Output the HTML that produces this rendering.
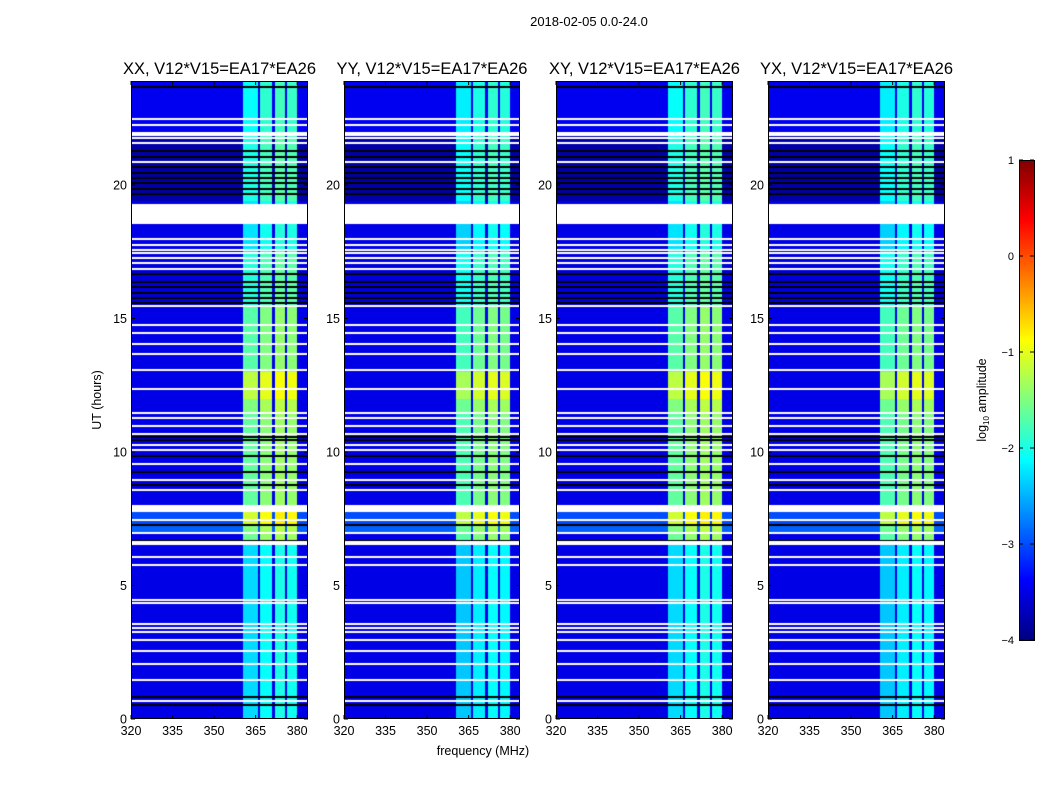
<!DOCTYPE html>
<html><head><meta charset="utf-8">
<style>
body{margin:0;background:#fff;width:1050px;height:800px;overflow:hidden;position:relative;font-family:"Liberation Sans",sans-serif}
canvas{position:absolute}
svg{position:absolute;left:0;top:0}
</style></head><body>
<canvas id="c0" width="177" height="638" style="left:131px;top:81px"></canvas>
<canvas id="c1" width="176" height="638" style="left:344px;top:81px"></canvas>
<canvas id="c2" width="177" height="638" style="left:556px;top:81px"></canvas>
<canvas id="c3" width="177" height="638" style="left:768px;top:81px"></canvas>
<canvas id="cb" width="15" height="480" style="left:1019px;top:160px"></canvas>
<svg id="s" width="1050" height="800"></svg>
<script>
// ---- data ----
const panelTitles=["XX, V12*V15=EA17*EA26","YY, V12*V15=EA17*EA26","XY, V12*V15=EA17*EA26","YX, V12*V15=EA17*EA26"];
const panelGain=[0,-0.1,0,-0.1];
const xTicks=[320,335,350,365,380];
const yTicks=[0,5,10,15,20];
const cbTicks=[1,0,-1,-2,-3,-4];
// frequency bands: start MHz, end MHz, offset (log10)
const bandStart=[360.4,366.6,372.0,376.3];
const bandEnd=[365.8,370.9,375.6,380.0];
const bandOffset=[-0.3,-0.1,0,-0.05];
// time blocks: start hour, end hour, band level, background level
const blockStart=[0,6.5,7.0,7.3,8.0,11.5,12.0,13.0,15.5,17.5,19.4,22.0];
const blockEnd=[6.5,7.0,7.3,8.0,11.5,12.0,13.0,15.5,17.5,19.4,22.0,24.0];
const blockBand=[-2.0,-1.3,-1.2,-0.8,-1.35,-1.2,-0.9,-1.4,-1.65,-1.95,-1.7,-1.8];
const blockBg=[-3.5,-3.5,-2.9,-3.0,-3.5,-3.5,-3.5,-3.5,-3.55,-3.5,-3.8,-3.45];
// flagged rows
const whiteHours=[22.5,22.3,22.0,21.9,21.8,21.6,20.9,18.0,17.8,17.6,17.5,17.3,17.1,16.9,15.5,14.8,14.5,14.1,13.7,13.1,12.4,11.5,11.3,11.0,10.7,10.3,10.1,9.6,9.0,8.6,7.5,7.0,6.1,5.8,4.5,4.4,3.6,3.45,3.3,3.0,2.6,2.1,1.5,0.7];
const whiteBlockStart=[18.54,7.75,6.52];
const whiteBlockEnd=[19.29,8.02,6.67];
const blackHours=[23.7,21.3,21.1,20.7,20.5,20.3,20.1,19.9,19.7,16.7,16.4,16.2,16.0,15.8,15.6,10.6,10.5,9.9,9.3,8.8,7.3,6.7,0.85,0.55];

// ---- helpers ----
function jet(t){t=Math.max(0,Math.min(1,t));
 const f=x=>Math.max(0,Math.min(1,x));
 return [f(1.5-Math.abs(4*t-3)),f(1.5-Math.abs(4*t-2)),f(1.5-Math.abs(4*t-1))].map(v=>Math.round(v*255));}
const vmin=-4,vmax=1;
function col(v){return jet((v-vmin)/(vmax-vmin));}
const H=638;
function yOfHour(h){return 719-h*26.7;}
function xOfFreq(f,x0){return x0+(f-320)*2.77;}
const px0=[131,344,556,768];

for(let p=0;p<4;p++){
 const cv=document.getElementById('c'+p),ctx=cv.getContext('2d');
 const W=cv.width,img=ctx.createImageData(W,H);
 for(let r=0;r<H;r++){
  const h=(638-r-0.5)/26.7;
  let bi=0;for(let i=0;i<blockStart.length;i++)if(h>=blockStart[i]&&h<blockEnd[i])bi=i;
  for(let c=0;c<W;c++){
   const f=320+(c+0.5)/2.77;
   let v=blockBg[bi];
   for(let b=0;b<bandStart.length;b++)if(f>=bandStart[b]&&f<bandEnd[b])v=blockBand[bi]+bandOffset[b]+panelGain[p];
   const [R,G,B]=col(v);const k=(r*W+c)*4;
   img.data[k]=R;img.data[k+1]=G;img.data[k+2]=B;img.data[k+3]=255;
  }
 }
 ctx.putImageData(img,0,0);
 ctx.fillStyle='#000';
 blackHours.forEach(h=>ctx.fillRect(0,Math.round(yOfHour(h)-81),W,2));
 ctx.fillStyle='#fff';
 whiteHours.forEach(h=>ctx.fillRect(0,Math.round(yOfHour(h)-81),W,2));
 for(let i=0;i<whiteBlockStart.length;i++){
  const y1=Math.round(yOfHour(whiteBlockEnd[i])-81),y2=Math.round(yOfHour(whiteBlockStart[i])-81);
  ctx.fillRect(0,y1,W,y2-y1);
 }
}
// colorbar
{const cv=document.getElementById('cb'),ctx=cv.getContext('2d');
 for(let r=0;r<480;r++){const [R,G,B]=jet(1-(r+0.5)/480);ctx.fillStyle=`rgb(${R},${G},${B})`;ctx.fillRect(0,r,15,1);}}

// ---- svg overlay ----
const s=document.getElementById('s'),NS='http://www.w3.org/2000/svg';
function el(t,a,txt){const e=document.createElementNS(NS,t);for(const k in a)e.setAttribute(k,a[k]);if(txt!==undefined)e.textContent=txt;s.appendChild(e);return e;}
let e;
e=el('text',{x:589,y:26,'text-anchor':'middle','font-size':13},'2018-02-05 0.0-24.0');

for(let p=0;p<4;p++){
 const x0=px0[p],w=(p==1?176:177);
 e=el('text',{x:x0+w/2,y:74,'text-anchor':'middle','font-size':16.5},panelTitles[p]);
 
 e=el('rect',{x:x0+0.5,y:81.5,width:w-1,height:637,fill:'none',stroke:'#000','stroke-width':1});
 
 xTicks.forEach(f=>{const x=xOfFreq(f,x0);
  el('line',{x1:x,x2:x,y1:719,y2:715,stroke:'#000'});el('line',{x1:x,x2:x,y1:81,y2:85,stroke:'#000'});
  e=el('text',{x:x,y:735,'text-anchor':'middle','font-size':12.5},String(f));
  });
 yTicks.forEach(h=>{const y=yOfHour(h);
  el('line',{x1:x0,x2:x0+4,y1:y,y2:y,stroke:'#000'});el('line',{x1:x0+w-4,x2:x0+w,y1:y,y2:y,stroke:'#000'});
  e=el('text',{x:x0-4,y:y+4.5,'text-anchor':'end','font-size':12.5},String(h));
  });
}
e=el('text',{x:483,y:755,'text-anchor':'middle','font-size':12.5},'frequency (MHz)');

e=el('text',{x:0,y:0,'text-anchor':'middle','font-size':12.5,transform:'translate(101,400) rotate(-90)'},'UT (hours)');

e=el('rect',{x:1019.5,y:160.5,width:15,height:480,fill:'none',stroke:'#000'});

cbTicks.forEach(v=>{const y=160+(1-v)*96;
 el('line',{x1:1019,x2:1023,y1:y,y2:y,stroke:'#000'});el('line',{x1:1030,x2:1034,y1:y,y2:y,stroke:'#000'});
 e=el('text',{x:1014,y:y+4,'text-anchor':'end','font-size':11},v<0?'\u2212'+(-v):String(v));
 });
e=el('text',{x:0,y:0,'text-anchor':'middle','font-size':12.5,transform:'translate(986,400) rotate(-90)'});

e.innerHTML='log<tspan font-size="8" dy="3">10</tspan><tspan dy="-3"> amplitude</tspan>';
</script>
</body></html>
